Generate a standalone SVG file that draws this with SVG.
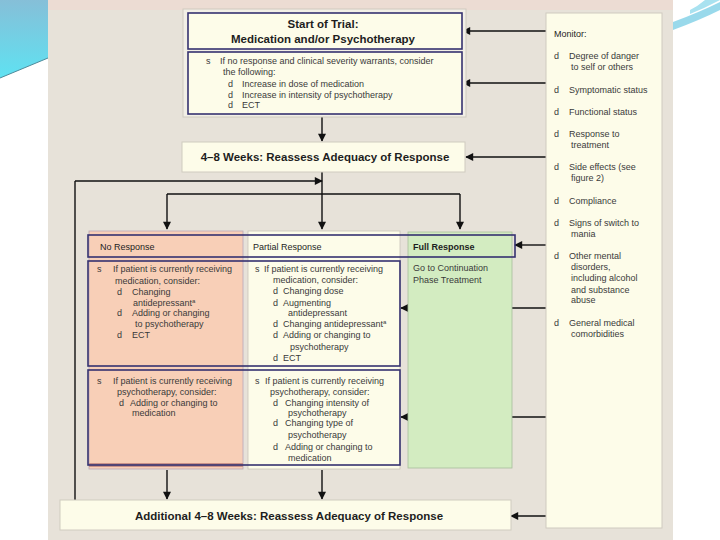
<svg xmlns="http://www.w3.org/2000/svg" width="720" height="540" viewBox="0 0 720 540">
<defs>
<linearGradient id="cyan" x1="0" y1="0" x2="0" y2="1">
<stop offset="0" stop-color="#86bfd8"/>
<stop offset="1" stop-color="#5fe2f2"/>
</linearGradient>
<marker id="ah" viewBox="0 0 10 10" refX="9" refY="5" markerWidth="9" markerHeight="8" markerUnits="userSpaceOnUse" orient="auto">
<path d="M0,0 L10,5 L0,10 Z" fill="#111"/>
</marker>
<style>
text{font-family:"Liberation Sans",Arial,sans-serif;fill:#3a3a3a;font-size:9px}
.b{font-weight:bold;fill:#1e1e1e;font-size:11.5px}
.h{fill:#1e1e1e}
.hb{fill:#1e1e1e;font-weight:bold}
.c{text-anchor:middle}
.navy{fill:none;stroke:#353170;stroke-width:1.6}
.cream{fill:#fdfce9}
.ln{fill:none;stroke:#111;stroke-width:1.4}
.arr{fill:none;stroke:#111;stroke-width:1.4;marker-end:url(#ah)}
</style>
</defs>
<rect width="720" height="540" fill="#ffffff"/>
<path d="M0,0 H48 V58 L0,78 Z" fill="url(#cyan)"/>
<path d="M0,78 L48,58" stroke="#4f8a9a" stroke-width="1" fill="none"/>
<path d="M673,22 Q700,12 720,2 V10 Q700,20 673,30 Z" fill="#7fd0e6" opacity="0.8"/>
<path d="M690,14 Q705,8 720,0 H705 Q698,6 690,10 Z" fill="#a9e2f0"/>
<rect x="48" y="0" width="625" height="540" fill="#e7e2d9"/>
<rect x="48" y="0" width="625" height="10" fill="#ecdcd3"/>

<g id="connectors">
<path class="arr" d="M546,31 H463"/>
<path class="arr" d="M546,83 H463"/>
<path class="arr" d="M322,115 V141"/>
<path class="arr" d="M546,157 H466"/>
<path class="arr" d="M322,172 V229"/>
<path class="ln" d="M167,194 H460"/>
<path class="arr" d="M167,194 V229"/>
<path class="arr" d="M460,194 V229"/>
<path class="ln" d="M75,500 V181"/>
<path class="arr" d="M75,181 H322"/>
<path class="arr" d="M546,245 H515"/>
<path class="arr" d="M546,308 H401"/>
<path class="arr" d="M546,417 H401"/>
<path class="arr" d="M167,470 V499"/>
<path class="arr" d="M322,470 V499"/>
<path class="arr" d="M546,516 H511"/>
</g>

<g id="start-of-trial">
<rect x="183" y="9" width="283" height="108" fill="#f2efe6" stroke="#cfcac0" stroke-width="1"/>
<rect x="188" y="13" width="274" height="36" class="cream"/>
<rect x="188" y="13" width="274" height="36" class="navy"/>
<text x="323" y="28" class="b c">Start of Trial:</text>
<text x="323" y="43" class="b c">Medication and/or Psychotherapy</text>
</g>

<g id="no-response-option">
<rect x="188" y="52" width="274" height="62" class="cream"/>
<rect x="188" y="52" width="274" height="62" class="navy"/>
<text x="206" y="64">s</text>
<text x="220" y="64">If no response and clinical severity warrants, consider</text>
<text x="223" y="75">the following:</text>
<text x="228" y="87">d</text><text x="242" y="87">Increase in dose of medication</text>
<text x="228" y="98">d</text><text x="242" y="98">Increase in intensity of psychotherapy</text>
<text x="228" y="108">d</text><text x="242" y="108">ECT</text>
</g>

<g id="reassess-4-8">
<rect x="182" y="142" width="283" height="30" class="cream" stroke="#d0cbc0" stroke-width="1"/>
<text x="325" y="161" class="b c">4–8 Weeks: Reassess Adequacy of Response</text>
</g>

<g id="columns">
<rect x="89" y="231" width="154" height="238" fill="#f8cfb7" stroke="#b9a9b8" stroke-width="0.8"/>
<rect x="89" y="463" width="154" height="4" fill="#c9928a"/>
<rect x="248" y="231" width="152" height="238" class="cream" stroke="#c8c3b8" stroke-width="0.8"/>
<rect x="408" y="232" width="104" height="236" fill="#d3ecc1" stroke="#a9bf9c" stroke-width="0.8"/>
</g>

<g id="header-row">
<rect x="88" y="235" width="427" height="22" class="navy"/>
<text x="100" y="250" class="h">No Response</text>
<text x="253" y="250" class="h">Partial Response</text>
<text x="413" y="250" class="hb">Full Response</text>
</g>

<g id="medication-row">
<rect x="88" y="261" width="312" height="105" class="navy"/>
<text x="97" y="272">s</text><text x="113" y="272">If patient is currently receiving</text>
<text x="115" y="284">medication, consider:</text>
<text x="117" y="295">d</text><text x="132" y="295">Changing</text>
<text x="133" y="306">antidepressant<tspan font-size="6" dy="-3">a</tspan></text>
<text x="117" y="316">d</text><text x="132" y="316">Adding or changing</text>
<text x="135" y="327">to psychotherapy</text>
<text x="117" y="338">d</text><text x="132" y="338">ECT</text>

<text x="255" y="272">s</text><text x="264" y="272">If patient is currently receiving</text>
<text x="273" y="283">medication, consider:</text>
<text x="273" y="294">d</text><text x="283" y="294">Changing dose</text>
<text x="273" y="306">d</text><text x="283" y="306">Augmenting</text>
<text x="288" y="316">antidepressant</text>
<text x="273" y="327">d</text><text x="283" y="327">Changing antidepressant<tspan font-size="6" dy="-3">a</tspan></text>
<text x="273" y="338">d</text><text x="283" y="338">Adding or changing to</text>
<text x="290" y="350">psychotherapy</text>
<text x="273" y="361">d</text><text x="283" y="361">ECT</text>
</g>

<g id="full-response">
<text x="413" y="271">Go to Continuation</text>
<text x="413" y="283">Phase Treatment</text>
</g>

<g id="psychotherapy-row">
<rect x="88" y="370" width="312" height="95" class="navy"/>
<text x="97" y="384">s</text><text x="113" y="384">If patient is currently receiving</text>
<text x="117" y="395">psychotherapy, consider:</text>
<text x="119" y="406">d</text><text x="130" y="406">Adding or changing to</text>
<text x="132" y="416">medication</text>

<text x="255" y="384">s</text><text x="265" y="384">If patient is currently receiving</text>
<text x="270" y="395">psychotherapy, consider:</text>
<text x="273" y="406">d</text><text x="285" y="406">Changing intensity of</text>
<text x="288" y="416">psychotherapy</text>
<text x="273" y="426">d</text><text x="285" y="426">Changing type of</text>
<text x="288" y="438">psychotherapy</text>
<text x="273" y="450">d</text><text x="285" y="450">Adding or changing to</text>
<text x="288" y="461">medication</text>
</g>

<g id="monitor">
<rect x="546" y="13" width="116" height="515" class="cream" stroke="#cfcac0" stroke-width="1"/>
<text x="554" y="37" class="h">Monitor:</text>
<text x="554" y="59">d</text><text x="569" y="59">Degree of danger</text>
<text x="571" y="70">to self or others</text>
<text x="554" y="93">d</text><text x="569" y="93">Symptomatic status</text>
<text x="554" y="115">d</text><text x="569" y="115">Functional status</text>
<text x="554" y="137">d</text><text x="569" y="137">Response to</text>
<text x="571" y="148">treatment</text>
<text x="554" y="170">d</text><text x="569" y="170">Side effects (see</text>
<text x="571" y="181">figure 2)</text>
<text x="554" y="204">d</text><text x="569" y="204">Compliance</text>
<text x="554" y="226">d</text><text x="569" y="226">Signs of switch to</text>
<text x="571" y="237">mania</text>
<text x="554" y="259">d</text><text x="569" y="259">Other mental</text>
<text x="571" y="270">disorders,</text>
<text x="571" y="281">including alcohol</text>
<text x="571" y="293">and substance</text>
<text x="571" y="303">abuse</text>
<text x="554" y="326">d</text><text x="569" y="326">General medical</text>
<text x="571" y="337">comorbidities</text>
</g>

<g id="additional-reassess">
<rect x="60" y="500" width="451" height="30" class="cream" stroke="#d0cbc0" stroke-width="1"/>
<text x="289" y="520" class="b c">Additional 4–8 Weeks: Reassess Adequacy of Response</text>
</g>
</svg>
